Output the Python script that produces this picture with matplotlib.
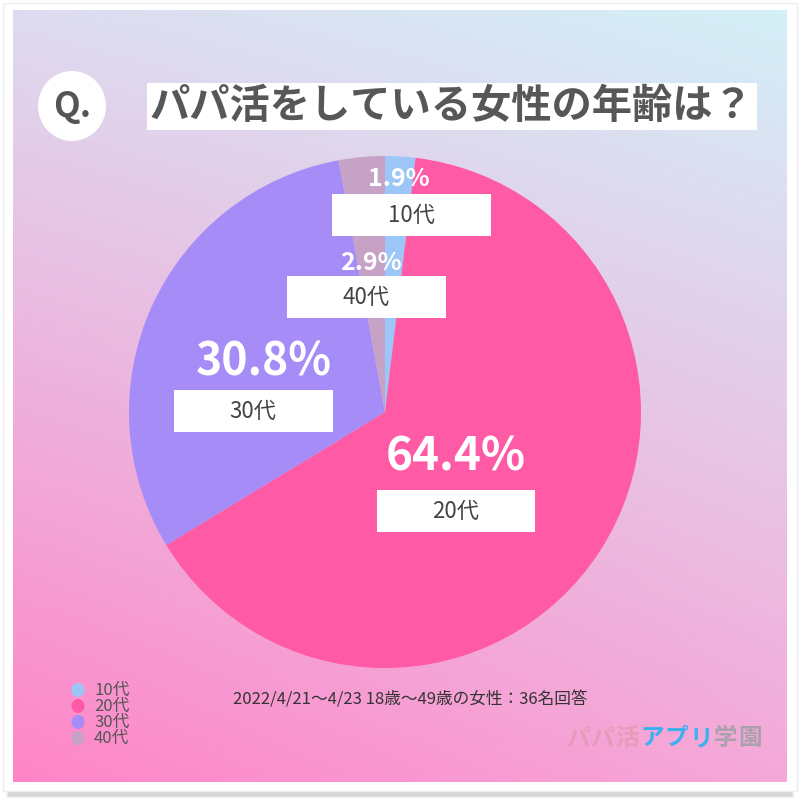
import numpy as np
import matplotlib.pyplot as plt
from matplotlib.patches import Rectangle, Ellipse

plt.rcParams['font.family'] = ['Noto Sans CJK JP', 'DejaVu Sans']

# data
labels = ['10代', '20代', '30代', '40代']
values = [1.9, 64.4, 30.8, 2.9]
colors = ['#9cc6f7', '#ff5aa6', '#a68cf6', '#c6a2c6']
title = 'パパ活をしている女性の年齢は？'
note = '2022/4/21〜4/23 18歳〜49歳の女性：36名回答'

# label layout: radius of % label along wedge middle, font sizes, box offsets
pct_radius = [0.91, 0.33, 0.52, 0.585]
pct_size = [18, 33, 32, 18]
pct_dx = [0.0, 0.0, 0.0, 0.0]
pct_dy = [0.0, 0.0, -0.02, 0.0]
box_drop = [0.14, 0.21, 0.19, 0.135]
box_shift = [0.05, 0.0, -0.04, -0.02]

W, H = 800, 808
fig = plt.figure(figsize=(W / 100, H / 100), dpi=100)
fig.patch.set_facecolor('white')

bg = fig.add_axes([0, 0, 1, 1])
bg.axis('off')

# frame + shadow
for i in range(6):
    bg.add_patch(Rectangle((6 + i * 0.5, 10 + i), 788 - i, 788 - i * 1.5,
                           facecolor='#808080', alpha=0.06, lw=0, zorder=0))
bg.add_patch(Rectangle((3, 3), 794, 788, facecolor='white',
                       edgecolor='#eeeeee', lw=1, zorder=1))

# gradient panel
ny, nx = 200, 200
yy, xx = np.mgrid[0:1:ny * 1j, 0:1:nx * 1j]
tl = np.array([0.87, 0.86, 0.94])
tr = np.array([0.83, 0.94, 0.97])
bl = np.array([1.00, 0.52, 0.78])
br = np.array([0.96, 0.66, 0.85])
grad = ((1 - xx)[..., None] * (1 - yy)[..., None] * tl
        + xx[..., None] * (1 - yy)[..., None] * tr
        + (1 - xx)[..., None] * yy[..., None] * bl
        + xx[..., None] * yy[..., None] * br)
bg.imshow(grad, extent=[13, 787, 782, 10], aspect='auto', zorder=2)
bg.set_xlim(0, W)
bg.set_ylim(H, 0)

# Q circle and title box
bg.add_patch(Ellipse((72, 106), 68, 70, facecolor='white', lw=0, zorder=3))
bg.text(72, 106, 'Q.', ha='center', va='center', fontsize=25,
        color='#555555', fontweight='bold', zorder=4)
bg.add_patch(Rectangle((147, 83), 610, 47, facecolor='white', lw=0, zorder=3))
bg.text(451, 106, title, ha='center', va='center', fontsize=29,
        fontweight='bold', color='#575757', zorder=4)

# pie
cx, cy, r = 385, 412, 256
pax = fig.add_axes([(cx - r) / W, 1 - (cy + r) / H, 2 * r / W, 2 * r / H])
wedges, _ = pax.pie(values, colors=colors, startangle=90, counterclock=False,
                    wedgeprops=dict(linewidth=0))
pax.set_aspect('equal')
pax.set_xlim(-1, 1)
pax.set_ylim(-1, 1)

for i, (w, lab, v) in enumerate(zip(wedges, labels, values)):
    mid = np.deg2rad((w.theta1 + w.theta2) / 2)
    px = pct_radius[i] * np.cos(mid) + pct_dx[i]
    py = pct_radius[i] * np.sin(mid) + pct_dy[i]
    pax.text(px, py, f'{v}%', ha='center', va='center', fontsize=pct_size[i],
             fontweight='bold', color='white', zorder=5)
    bx, by = px + box_shift[i], py - box_drop[i]
    pax.add_patch(Rectangle((bx - 0.31, by - 0.082), 0.62, 0.164,
                            facecolor='white', lw=0, zorder=5))
    pax.text(bx, by, lab, ha='center', va='center', fontsize=16,
             color='#444444', zorder=6)

# legend
for i, (lab, c) in enumerate(zip(labels, colors)):
    y = 690 + i * 16
    bg.add_patch(Ellipse((78, y), 13, 14, facecolor=c, lw=0, zorder=4))
    bg.text(94, y, lab, ha='left', va='center', fontsize=12,
            color='#555555', zorder=4)

bg.text(410, 700, note, ha='center', va='center', fontsize=12,
        color='#333333', zorder=4)

# watermark, parts laid side by side using measured widths
fig.canvas.draw()
renderer = fig.canvas.get_renderer()
x0 = 566
for part, c in [('パパ活', '#e79bb8'), ('アプリ', '#3cb0ef'), ('学園', '#aaa1ad')]:
    for ch in part:
        t = bg.text(x0, 738, ch, ha='left', va='center', fontsize=17,
                    fontweight='bold', color=c, zorder=4)
        bb = t.get_window_extent(renderer)
        x0 += bb.width + 1

fig.savefig('out.png', dpi=100)
